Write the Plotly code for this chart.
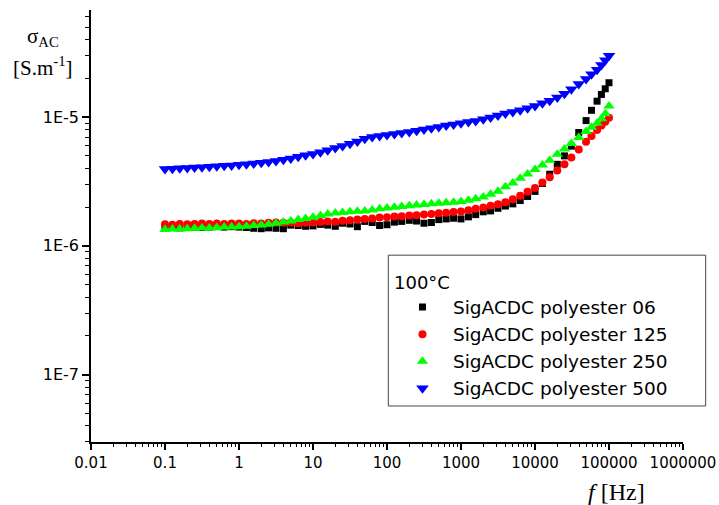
import plotly.graph_objects as go

# Measurement frequencies [Hz]
freq_hz = [
    0.1, 0.126, 0.158, 0.2, 0.251, 0.316, 0.398, 0.501, 0.631, 0.794,
    1, 1.26, 1.58, 2, 2.51, 3.16, 3.98, 5.01, 6.31, 7.94,
    10, 12.6, 15.8, 20, 25.1, 31.6, 39.8, 50.1, 63.1, 79.4,
    100, 126, 158, 200, 251, 316, 398, 501, 631, 794,
    1000, 1260, 1580, 2000, 2510, 3160, 3980, 5010, 6310, 7940,
    10000, 12600, 15800, 20000, 25000, 31000, 39000, 49000, 58000, 69000,
    79000, 89000, 100000,
]

# AC conductivity at 100 °C, in µS/m
sigma_06 = [
    1.38, 1.39, 1.38, 1.39, 1.40, 1.39, 1.40, 1.41, 1.40, 1.41,
    1.40, 1.39, 1.37, 1.36, 1.38, 1.37, 1.36, 1.45, 1.44, 1.42,
    1.43, 1.47, 1.45, 1.42, 1.50, 1.48, 1.41, 1.55, 1.52, 1.44,
    1.46, 1.53, 1.55, 1.58, 1.56, 1.50, 1.52, 1.60, 1.62, 1.64,
    1.62, 1.68, 1.75, 1.84, 1.87, 1.96, 2.04, 2.12, 2.25, 2.42,
    2.65, 3.05, 3.60, 4.30, 5.00, 5.95, 7.60, 9.40, 11.3, 13.3,
    15.0, 16.6, 18.5,
]
sigma_125 = [
    1.47, 1.46, 1.48, 1.47, 1.48, 1.49, 1.48, 1.49, 1.48, 1.49,
    1.49, 1.48, 1.50, 1.49, 1.51, 1.52, 1.51, 1.52, 1.50, 1.51,
    1.52, 1.53, 1.55, 1.54, 1.57, 1.58, 1.60, 1.62, 1.63, 1.66,
    1.67, 1.69, 1.70, 1.72, 1.73, 1.75, 1.77, 1.79, 1.81, 1.83,
    1.85, 1.89, 1.94, 1.99, 2.05, 2.11, 2.18, 2.30, 2.45, 2.63,
    2.82, 3.10, 3.42, 3.85, 4.30, 4.85, 5.60, 6.45, 7.15, 7.95,
    8.60, 9.20, 9.90,
]
sigma_250 = [
    1.34, 1.35, 1.35, 1.36, 1.37, 1.38, 1.38, 1.39, 1.40, 1.40,
    1.41, 1.42, 1.44, 1.45, 1.47, 1.50, 1.53, 1.56, 1.60, 1.63,
    1.67, 1.72, 1.77, 1.80, 1.82, 1.84, 1.86, 1.87, 1.90, 1.94,
    1.97, 2.00, 2.02, 2.05, 2.08, 2.10, 2.12, 2.14, 2.16, 2.18,
    2.21, 2.26, 2.32, 2.40, 2.52, 2.66, 2.88, 3.08, 3.35, 3.62,
    3.92, 4.25, 4.62, 5.15, 5.65, 6.25, 6.95, 7.75, 8.35, 8.95,
    9.70, 10.6, 12.2,
]
sigma_500 = [
    3.96, 3.98, 4.00, 4.03, 4.06, 4.09, 4.12, 4.15, 4.19, 4.22,
    4.26, 4.30, 4.36, 4.42, 4.48, 4.56, 4.66, 4.78, 4.92, 5.05,
    5.18, 5.33, 5.52, 5.75, 5.98, 6.22, 6.48, 6.78, 7.00, 7.15,
    7.28, 7.40, 7.52, 7.68, 7.85, 8.02, 8.20, 8.40, 8.60, 8.78,
    8.95, 9.15, 9.35, 9.62, 9.95, 10.3, 10.65, 10.95, 11.3, 11.7,
    12.2, 12.8, 13.4, 14.2, 15.2, 16.5, 18.1, 19.8, 21.5, 23.3,
    25.4, 27.6, 30.0,
]

series_names = [
    "SigACDC polyester 06",
    "SigACDC polyester 125",
    "SigACDC polyester 250",
    "SigACDC polyester 500",
]
series_values = [sigma_06, sigma_125, sigma_250, sigma_500]
series_colors = ["#000000", "#ff0000", "#00ff00", "#0000ff"]
series_symbols = ["square", "circle", "triangle-up", "triangle-down"]
series_sizes = [7, 8, 10, 11]

x_tick_vals = [0.01, 0.1, 1, 10, 100, 1000, 10000, 100000, 1000000]
x_tick_text = ["0.01", "0.1", "1", "10", "100", "1000", "10000", "100000", "1000000"]
y_tick_vals = [1e-7, 1e-6, 1e-5]
y_tick_text = ["1E-7", "1E-6", "1E-5"]

US_PER_S = 1e-6  # µS/m -> S/m

fig = go.Figure()
for name, vals, color, symbol, size in zip(
    series_names, series_values, series_colors, series_symbols, series_sizes
):
    fig.add_trace(go.Scatter(
        x=freq_hz,
        y=[v * US_PER_S for v in vals],
        mode="markers",
        name=name,
        marker=dict(symbol=symbol, color=color, size=size, line=dict(width=0)),
    ))

# minor ticks at 2..9 within every decade
x_minor = [m * 10.0 ** e for e in range(-2, 6) for m in range(2, 10)]
y_minor = [m * 10.0 ** e for e in range(-8, -4) for m in range(2, 10)]

sans = "DejaVu Sans"
serif = "Liberation Serif"

fig.update_xaxes(
    type="log",
    range=[-2, 6],
    automargin=False,
    showgrid=False,
    zeroline=False,
    showline=True,
    linecolor="#000000",
    linewidth=1.5,
    ticks="outside",
    ticklen=6,
    tickwidth=1.5,
    tickcolor="#000000",
    tickvals=x_tick_vals,
    ticktext=x_tick_text,
    tickfont=dict(family=sans, size=15, color="#000000"),
    minor=dict(tickvals=x_minor, ticks="outside", ticklen=3, tickwidth=1.2,
               tickcolor="#000000", showgrid=False),
)
fig.update_yaxes(
    type="log",
    range=[-7.523, -4.168],
    automargin=False,
    showgrid=False,
    zeroline=False,
    showline=True,
    linecolor="#000000",
    linewidth=1.5,
    ticks="outside",
    ticklen=7,
    tickwidth=1.5,
    tickcolor="#000000",
    tickvals=y_tick_vals,
    ticktext=y_tick_text,
    tickfont=dict(family=sans, size=16, color="#000000"),
    minor=dict(tickvals=y_minor, ticks="outside", ticklen=4, tickwidth=1.2,
               tickcolor="#000000", showgrid=False),
)

fig.add_annotation(
    text="σ<sub>AC</sub>", xref="paper", yref="paper",
    x=-0.081, y=0.9375, xanchor="center", yanchor="middle",
    showarrow=False, font=dict(family=serif, size=21, color="#000000"),
)
fig.add_annotation(
    text="[S.m<sup>-1</sup>]", xref="paper", yref="paper",
    x=-0.081, y=0.870, xanchor="center", yanchor="middle",
    showarrow=False, font=dict(family=serif, size=21, color="#000000"),
)
fig.add_annotation(
    text="<i>f</i> [Hz]", xref="paper", yref="paper",
    x=0.887, y=-0.1165, xanchor="center", yanchor="middle",
    showarrow=False, font=dict(family=serif, size=24, color="#000000"),
)

# frame around the legend block
fig.add_shape(
    type="rect", xref="paper", yref="paper",
    x0=0.5022, x1=1.0383, y0=0.0834, y1=0.4325,
    line=dict(color="#444444", width=1), fillcolor="#ffffff", layer="below",
)

fig.update_layout(
    width=719,
    height=505,
    margin=dict(l=91, r=36, t=9.5, b=63.3, pad=0, autoexpand=False),
    paper_bgcolor="#ffffff",
    plot_bgcolor="#ffffff",
    showlegend=True,
    legend=dict(
        title=dict(text="100°C", font=dict(family=sans, size=18, color="#000000")),
        font=dict(family=sans, size=18.5, color="#000000"),
        x=0.5084, y=0.4093, xanchor="left", yanchor="top",
        bgcolor="rgba(0,0,0,0)",
        borderwidth=0,
        itemwidth=51,
    ),
)

fig.write_html("out.html")
